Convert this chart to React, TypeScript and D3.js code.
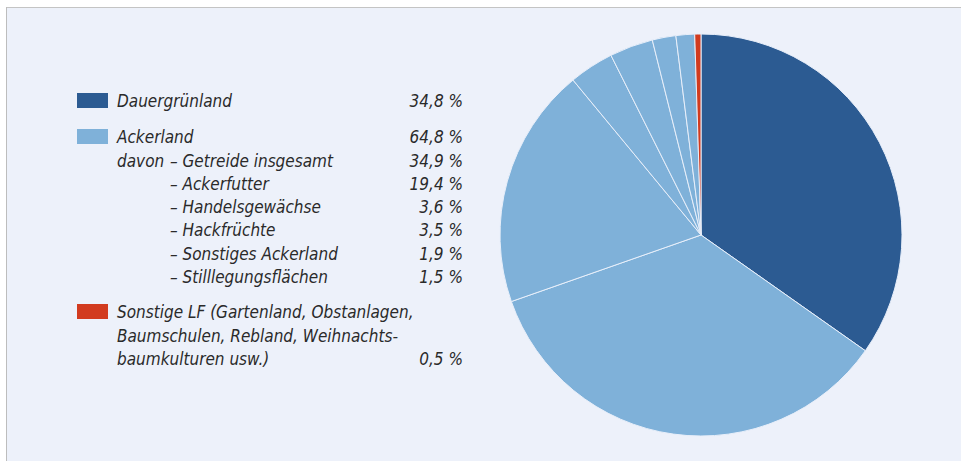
import React from "react";
import * as d3 from "d3";

const sliceNames = [
  "Dauergrünland",
  "Getreide insgesamt",
  "Ackerfutter",
  "Handelsgewächse",
  "Hackfrüchte",
  "Sonstiges Ackerland",
  "Stilllegungsflächen",
  "Sonstige LF",
];
const sliceValues = [34.8, 34.9, 19.4, 3.6, 3.5, 1.9, 1.5, 0.5];
const sliceGroups = ["dauer", "acker", "acker", "acker", "acker", "acker", "acker", "sonst"];

const groupColors: Record<string, string> = {
  dauer: "#2c5b92",
  acker: "#7fb1d9",
  sonst: "#d23b1f",
};

// legend rows: [swatch group | null, label, value text, indent level]
const legendLabels = [
  "Dauergrünland",
  "Ackerland",
  "davon",
  "– Getreide insgesamt",
  "– Ackerfutter",
  "– Handelsgewächse",
  "– Hackfrüchte",
  "– Sonstiges Ackerland",
  "– Stilllegungsflächen",
  "Sonstige LF (Gartenland, Obstanlagen,",
  "Baumschulen, Rebland, Weihnachts-",
  "baumkulturen usw.)",
];
const legendValues = ["34,8 %", "64,8 %", "", "34,9 %", "19,4 %", "3,6 %", "3,5 %", "1,9 %", "1,5 %", "", "", "0,5 %"];
const legendSwatch = ["dauer", "acker", null, null, null, null, null, null, null, "sonst", null, null];
const legendBaselines = [107, 143, 166.5, 166.5, 190, 213, 236, 259.5, 283, 318, 341.5, 365];
const legendValueRow = [0, 1, -1, 3, 4, 5, 6, 7, 8, -1, -1, 11];

export default function App() {
  const W = 961;
  const H = 461;
  const cx = 701;
  const cy = 235;
  const r = 201;

  const pie = d3
    .pie<number>()
    .sort(null)
    .value((d) => d)
    .startAngle(0)
    .endAngle(2 * Math.PI);
  const arcs = pie(sliceValues);
  const arc = d3.arc<d3.PieArcDatum<number>>().innerRadius(0).outerRadius(r);

  const font = "'Liberation Sans Narrow', 'DejaVu Sans Condensed', 'Liberation Sans', sans-serif";

  return (
    <svg
      width={W}
      height={H}
      style={{ position: "absolute", left: 0, top: 0, display: "block" }}
    >
      <rect x={0} y={0} width={W} height={H} fill="#ffffff" />
      <rect x={6} y={7} width={W - 6} height={H - 7} fill="#edf1fa" />
      <line x1={6} y1={7.5} x2={W} y2={7.5} stroke="#c4c4c4" strokeWidth={1} />
      <line x1={6.5} y1={7} x2={6.5} y2={H} stroke="#bdbdbd" strokeWidth={1} />

      <g transform={`translate(${cx},${cy})`}>
        {arcs.map((a, i) => (
          <path
            key={sliceNames[i]}
            d={arc(a) || ""}
            fill={groupColors[sliceGroups[i]]}
            stroke="#e8effa"
            strokeWidth={1}
            strokeLinejoin="round"
          />
        ))}
      </g>

      <g fontFamily={font} fontStyle="italic" fontSize={17} fill="#2a2a2a">
        {legendLabels.map((lab, i) => {
          const sw = legendSwatch[i];
          let x = 117;
          if (i >= 3 && i <= 8) x = 170;
          return (
            <g key={i}>
              {sw && (
                <rect
                  x={77}
                  y={legendBaselines[i] - 14}
                  width={31}
                  height={15}
                  fill={groupColors[sw]}
                />
              )}
              <text x={x} y={legendBaselines[i]}>
                {lab}
              </text>
              {legendValues[i] && (
                <text x={463} y={legendBaselines[i]} textAnchor="end">
                  {legendValues[i]}
                </text>
              )}
            </g>
          );
        })}
      </g>
    </svg>
  );
}
